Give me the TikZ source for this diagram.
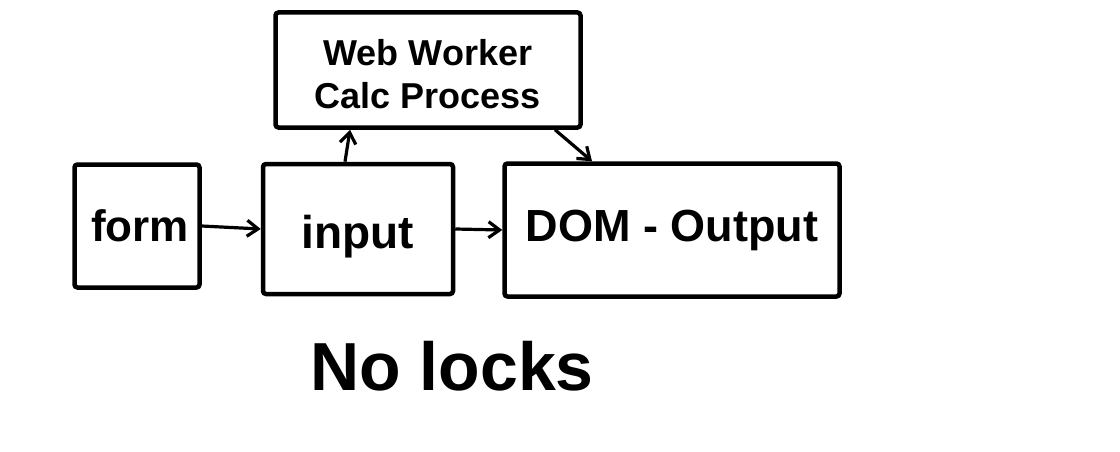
\documentclass[tikz,border=0pt]{standalone}
\usepackage{fontspec}
\setmainfont{Liberation Sans}
\usetikzlibrary{arrows.meta,calc}
\begin{document}
\begin{tikzpicture}[x=1pt,y=-1pt,
  box/.style={draw=black, line width=4.5pt, rectangle, rounded corners=3pt, inner sep=0pt},
  conn/.style={draw=black, line width=3.2pt, -{Straight Barb[length=11pt,width=16pt,line width=3.2pt]}},
  lbl/.style={inner sep=0pt, align=center}
]
\useasboundingbox (0,0) rectangle (1120,452);
\fill[white] (0,0) rectangle (1120,452);
\node[box, minimum width=125pt, minimum height=123pt] (form) at (137,226) {};
\node[box, minimum width=190pt, minimum height=130pt] (input) at (358,229) {};
\node[box, minimum width=335pt, minimum height=133pt] (dom) at (672,230) {};
\node[box, minimum width=305pt, minimum height=115pt] (ww) at (428,70) {};
\node[lbl, font=\bfseries\fontsize{44}{46}\selectfont] (formt) at ([xshift=3pt]form.center) {form};
\node[lbl, font=\bfseries\fontsize{46}{48}\selectfont] (inputt) at ([yshift=-8pt]input.center) {input};
\node[lbl, font=\bfseries\fontsize{45}{48}\selectfont] (domt) at (dom.center) {DOM - Output};
\node[lbl, font=\bfseries\fontsize{36}{43}\selectfont] (wwt) at ([yshift=-4pt]ww.center) {Web Worker\\Calc Process};
\node[lbl, font=\bfseries\fontsize{68}{70}\selectfont] (nolocks) at (452,366) {No locks};
\draw[conn] (form.east) -- (input.west);
\draw[conn] (input.east) -- (dom.west);
\draw[conn] ($(input.north)+(-13,0)$) -- ($(ww.south)+(-78,0)$);
\draw[conn] ($(ww.south)+(127,0)$) -- ($(dom.north)+(-80,0)$);
\end{tikzpicture}
\end{document}
